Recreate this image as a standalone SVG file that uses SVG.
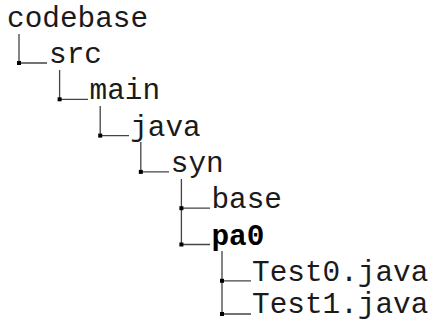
<svg xmlns="http://www.w3.org/2000/svg" width="433" height="322" viewBox="0 0 433 322">
<style>
text{font-family:"Liberation Mono","Courier New",monospace;font-size:29.4px;fill:#1a1a1a}
.b{font-weight:bold;fill:#000}
.l{stroke:#444;stroke-width:1.3;fill:none}
.m{fill:#000}
</style>
<rect width="433" height="322" fill="#fff"/>
<g id="connectors">
<path class="l" d="M19 34V63H47"/>
<path class="l" d="M59.6 70V99.3H88"/>
<path class="l" d="M100.2 106V135.6H129"/>
<path class="l" d="M140.8 142V171.9H169"/>
<path class="l" d="M181.4 179V244.5H210M181.4 208.2H210"/>
<path class="l" d="M222 251V314H251M222 280.8H251"/>
<rect class="m" x="17" y="61" width="4" height="4"/>
<rect class="m" x="57.6" y="97.3" width="4" height="4"/>
<rect class="m" x="98.2" y="133.6" width="4" height="4"/>
<rect class="m" x="138.8" y="169.9" width="4" height="4"/>
<rect class="m" x="179.4" y="206.2" width="4" height="4"/>
<rect class="m" x="179.4" y="242.5" width="4" height="4"/>
<rect class="m" x="220" y="278.8" width="4" height="4"/>
<rect class="m" x="220" y="312" width="4" height="4"/>
</g>
<g id="codebase"><text x="7" y="26.7">codebase</text></g>
<g id="src"><text x="49" y="63">src</text></g>
<g id="main"><text x="89.6" y="99.3">main</text></g>
<g id="java"><text x="130.2" y="135.6">java</text></g>
<g id="syn"><text x="170.8" y="171.9">syn</text></g>
<g id="base"><text x="211.4" y="208.2">base</text></g>
<g id="pa0"><text class="b" x="211.4" y="244.5">pa0</text></g>
<g id="Test0"><text x="252" y="280.8">Test0.java</text></g>
<g id="Test1"><text x="252" y="312.8">Test1.java</text></g>
</svg>
